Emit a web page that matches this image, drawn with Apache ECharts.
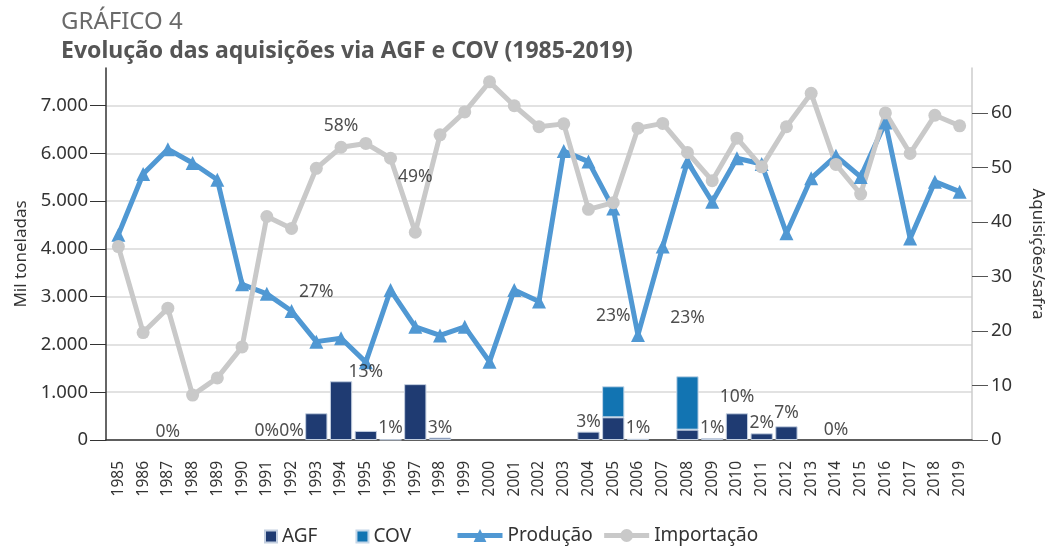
<!DOCTYPE html>
<html>
<head>
<meta charset="utf-8">
<script src="https://cdn.jsdelivr.net/npm/echarts@6/dist/echarts.min.js"></script>
<style>
  html, body { margin: 0; padding: 0; background: #fff; }
  #chart { width: 1054px; height: 546px; }
</style>
</head>
<body>
<div id="chart"></div>
<script>
const years = ['1985', '1986', '1987', '1988', '1989', '1990', '1991', '1992', '1993', '1994',
  '1995', '1996', '1997', '1998', '1999', '2000', '2001', '2002', '2003', '2004',
  '2005', '2006', '2007', '2008', '2009', '2010', '2011', '2012', '2013', '2014',
  '2015', '2016', '2017', '2018', '2019']

// mil toneladas
const agf = [null, null, null, null, null, null, null, null, 560, 1230,
  190, 10, 1170, 50, null, null, null, null, null, 175,
  475, 25, null, 216, 40, 559, 140, 287, null, null,
  null, null, null, null, null]
const cov = [null, null, null, null, null, null, null, null, null, null,
  null, null, null, null, null, null, null, null, null, null,
  650, null, null, 1118, null, null, null, null, null, null,
  null, null, null, null, null]
const producao = [4300, 5570, 6090, 5800, 5450, 3260, 3060, 2700, 2060, 2130,
  1630, 3140, 2370, 2190, 2370, 1640, 3140, 2900, 6050, 5830,
  4850, 2200, 4050, 5830, 4990, 5900, 5780, 4330, 5480, 5950,
  5510, 6650, 4220, 5410, 5200]
const importacao = [4050, 2250, 2760, 940, 1300, 1950, 4680, 4430, 5690, 6130,
  6210, 5900, 4350, 6390, 6870, 7500, 7000, 6560, 6620, 4830,
  4970, 6530, 6630, 6020, 5430, 6320, 5720, 6560, 7260, 5770,
  5150, 6850, 6000, 6800, 6580]

// aquisições/safra (%) and the height (mil t) where each label sits
const pctLabels = ['', '', '0%', '', '', '', '0%', '0%', '27%', '58%',
  '13%', '1%', '49%', '3%', '', '', '', '', '', '3%',
  '23%', '1%', '', '23%', '1%', '10%', '2%', '7%', '', '0%',
  '', '', '', '', '']
const pctLabelY = [null, null, 174, null, null, null, 195, 195, 3093, 6581,
  1430, 245, 5513, 245, null, null, null, null, null, 370,
  2596, 245, null, 2561, 245, 907, 350, 559, null, 209,
  null, null, null, null, null]

const leftTicks = [0, 1000, 2000, 3000, 4000, 5000, 6000, 7000]
const rightTicks = [0, 10, 20, 30, 40, 50, 60]

const font = 'Noto Sans'
const chart = echarts.init(document.getElementById('chart'))

const option = {
  animation: false,
  textStyle: { fontFamily: font },
  title: [
    {
      text: 'GRÁFICO 4',
      left: 56,
      top: 5,
      textStyle: { fontFamily: font, fontSize: 24, fontWeight: 'normal', color: '#6a6a6a' }
    },
    {
      text: 'Evolução das aquisições via AGF e COV (1985-2019)',
      left: 56,
      top: 35,
      textStyle: { fontFamily: font, fontSize: 23, fontWeight: 'bold', color: '#555' }
    }
  ],
  legend: [
    {
      data: ['AGF', 'COV'],
      left: 259,
      top: 522,
      icon: 'rect',
      itemWidth: 12,
      itemHeight: 12,
      itemGap: 38,
      textStyle: { fontFamily: font, fontSize: 19, color: '#333' }
    },
    {
      data: ['Produção', 'Importação'],
      left: 450,
      top: 521,
      itemWidth: 45,
      itemHeight: 16,
      itemGap: 9,
      lineStyle: { width: 5 },
      textStyle: { fontFamily: font, fontSize: 19, color: '#333' }
    }
  ],
  grid: {
    left: 106,
    right: 73,
    top: 68,
    bottom: 106
  },
  xAxis: {
    type: 'category',
    data: years,
    axisLine: { lineStyle: { color: '#333', width: 1.5 } },
    axisTick: { length: 14, lineStyle: { color: '#333' } },
    axisLabel: { rotate: 90, margin: 21, fontSize: 15.5, color: '#333', interval: 0 }
  },
  yAxis: [
    {
      type: 'value',
      min: 0,
      max: 7790,
      name: 'Mil toneladas',
      nameLocation: 'middle',
      nameGap: 76,
      nameTextStyle: { fontSize: 17, color: '#333' },
      axisLine: { show: true, lineStyle: { color: '#333', width: 1.5 } },
      axisTick: { show: true, length: 16, customValues: leftTicks, lineStyle: { color: '#333' } },
      axisLabel: {
        customValues: leftTicks,
        fontSize: 18.5,
        color: '#333',
        margin: 18,
        formatter: v => v.toLocaleString('pt-BR')
      },
      splitLine: { lineStyle: { color: '#d9d9d9', width: 1.5 } }
    },
    {
      type: 'value',
      min: 0,
      max: 68.3,
      name: 'Aquisições/safra',
      nameLocation: 'middle',
      nameRotate: -90,
      nameGap: 57,
      nameTextStyle: { fontSize: 17, color: '#333' },
      axisLine: { show: true, lineStyle: { color: '#ccc', width: 1.5 } },
      axisTick: { show: true, length: 16, customValues: rightTicks, lineStyle: { color: '#555' } },
      axisLabel: { customValues: rightTicks, fontSize: 18.5, color: '#333', margin: 19 },
      splitLine: { show: false }
    }
  ],
  series: [
    {
      name: 'AGF',
      type: 'bar',
      stack: 'aq',
      data: agf,
      barCategoryGap: '10%',
      itemStyle: { color: '#1f3b72', borderColor: '#c3cfe0', borderWidth: 1 }
    },
    {
      name: 'COV',
      type: 'bar',
      stack: 'aq',
      data: cov,
      barCategoryGap: '10%',
      itemStyle: { color: '#1274b2', borderColor: '#c3d6e8', borderWidth: 1 }
    },
    {
      name: 'Produção',
      type: 'line',
      data: producao,
      symbol: 'triangle',
      symbolSize: 14,
      lineStyle: { color: '#5098d3', width: 5 },
      itemStyle: { color: '#5098d3' }
    },
    {
      name: 'Importação',
      type: 'line',
      data: importacao,
      symbol: 'circle',
      symbolSize: 13,
      lineStyle: { color: '#c9c9c9', width: 5 },
      itemStyle: { color: '#c9c9c9' }
    },
    {
      name: 'pct',
      type: 'scatter',
      z: 10,
      symbolSize: 0,
      silent: true,
      data: pctLabelY.map((y, i) => (y === null ? null : [years[i], y, pctLabels[i]])),
      label: {
        show: true,
        position: 'inside',
        fontSize: 17.5,
        color: '#222',
        formatter: p => p.data[2]
      }
    }
  ]
}

chart.setOption(option)
window.addEventListener('resize', () => chart.resize())
</script>
</body>
</html>
